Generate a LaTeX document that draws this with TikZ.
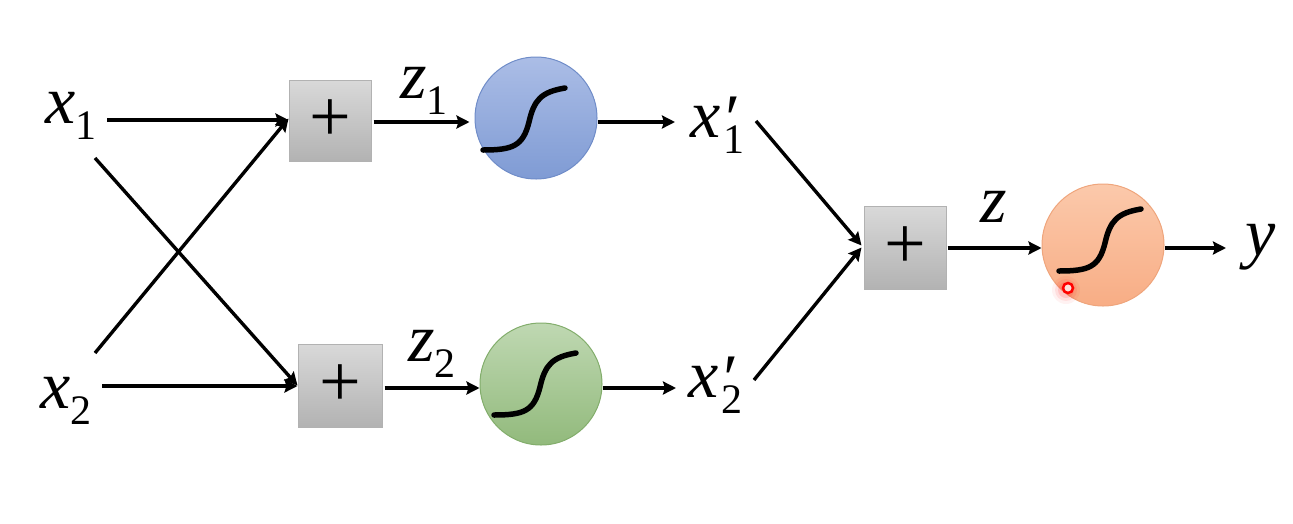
\documentclass[tikz,border=0pt]{standalone}
\usepackage{fontspec}
\setmainfont{Liberation Serif}
\usetikzlibrary{arrows.meta}
\definecolor{blueTop}{HTML}{ABBDE6}\definecolor{blueBot}{HTML}{7F9BD4}\definecolor{blueEdge}{HTML}{6F8CC8}
\definecolor{greenTop}{HTML}{BFD8B2}\definecolor{greenBot}{HTML}{92BA7C}\definecolor{greenEdge}{HTML}{82AD6B}
\definecolor{orangeTop}{HTML}{FBC9AB}\definecolor{orangeBot}{HTML}{F8AD85}\definecolor{orangeEdge}{HTML}{EFA57C}
\newcommand{\bigplus}{\fontsize{74}{74}\selectfont +}
% italic letter, lowered upright index, and a prime set over the index
\newcommand{\varsym}[1]{{\fontsize{68}{68}\selectfont\itshape #1}}
\newcommand{\indexsym}[1]{\raisebox{-16pt}{\fontsize{42}{42}\selectfont #1}}
\newcommand{\primesym}{\rlap{\raisebox{-4pt}{\fontsize{68}{68}\selectfont\itshape\kern1pt ′}}}
\tikzset{
  sumbox/.style={draw=black!30, line width=1pt, inner sep=0pt, top color=black!15, bottom color=black!30},
  gatecircle/.style={circle, minimum size=122pt, inner sep=0pt, line width=1pt},
  wire/.style={line width=3.4pt, -{Stealth[length=13pt,width=13pt,inset=2pt]}},
  mathlabel/.style={inner sep=0pt, anchor=base west},
  sigmoid/.pic={
    \draw[line width=5.5pt, line cap=round, black]
      (0,0) .. controls (30,0) and (40,-4) .. (46,-28)
            .. controls (51,-50) and (58,-58) .. (82,-62);
  }
}
\begin{document}
\begin{tikzpicture}[x=1pt,y=-1pt]
  \useasboundingbox (0,0) rectangle (1293,523);

  % summing boxes
  \node[sumbox, minimum width=82pt, minimum height=81pt] (sumA) at (330,120.5) {\bigplus};
  \node[sumbox, minimum width=84pt, minimum height=83pt] (sumB) at (340,385.5) {\bigplus};
  \node[sumbox, minimum width=82pt, minimum height=83pt] (sumC) at (905,247.5) {\bigplus};

  % activation circles
  \node[gatecircle, draw=blueEdge, top color=blueTop, bottom color=blueBot] (gateA) at (536,118) {};
  \node[gatecircle, draw=greenEdge, top color=greenTop, bottom color=greenBot] (gateB) at (541,384) {};
  \node[gatecircle, draw=orangeEdge, top color=orangeTop, bottom color=orangeBot] (gateC) at (1103,245) {};
  \pic at (483,150) {sigmoid};
  \pic at (494,415) {sigmoid};
  \pic at (1059,271) {sigmoid};

  % variable labels
  \node[mathlabel] (xA) at (45,123) {\varsym{x}\indexsym{1}};
  \node[mathlabel] (xB) at (40,408) {\varsym{x}\indexsym{2}};
  \node[mathlabel] (zA) at (400,98) {\varsym{z}\indexsym{1}};
  \node[mathlabel] (zB) at (408,361) {\varsym{z}\indexsym{2}};
  \node[mathlabel] (xpA) at (690,137) {\varsym{x}\primesym\kern3pt\indexsym{1}};
  \node[mathlabel] (xpB) at (688,397) {\varsym{x}\primesym\kern3pt\indexsym{2}};
  \node[mathlabel] (zC) at (980,222) {\varsym{z}};
  \node[mathlabel] (yC) at (1245,255) {\varsym{y}};

  % free ends of the wires
  \coordinate (xAright) at (107,120);
  \coordinate (xAdown) at (95,158);
  \coordinate (xBright) at (102,386);
  \coordinate (xBup) at (95,353);
  \coordinate (xpAout) at (756,121);
  \coordinate (xpBout) at (754,380);
  \coordinate (xpAin) at (675,122);
  \coordinate (xpBin) at (676,388);
  \coordinate (yIn) at (1226,248);

  % wires
  \draw[wire] (xAright) -- (sumA.west |- xAright);
  \draw[wire] (xBup) -- ([yshift=2pt]sumA.west);
  \draw[wire] (xAdown) -- (sumB.west);
  \draw[wire] (xBright) -- (sumB.west |- xBright);
  \draw[wire] ([shift={(2pt,-1.5pt)}]sumA.east) -- ([shift={(-5pt,-4pt)}]gateA.west);
  \draw[wire] ([shift={(2pt,-2.5pt)}]sumB.east) -- ([yshift=-4pt]gateB.west);
  \draw[wire] ([yshift=-4pt]gateA.east) -- (xpAin);
  \draw[wire] ([yshift=-4pt]gateB.east) -- (xpBin);
  \draw[wire] (xpAout) -- ([shift={(-2pt,2pt)}]sumC.west);
  \draw[wire] (xpBout) -- ([xshift=-2pt]sumC.west);
  \draw[wire] ([shift={(1pt,-0.5pt)}]sumC.east) -- ([yshift=-3pt]gateC.west);
  \draw[wire] ([yshift=-3pt]gateC.east) -- (yIn);

  % pointer spot with its soft glow
  \foreach \r/\o in {14/0.05,11/0.08,8/0.12}
    \fill[red, opacity=\o] (1066,290) circle (\r pt);
  \node[circle, draw=red, line width=2.5pt, fill=white, fill opacity=0.75, minimum size=10pt, inner sep=0pt] (spot) at (1068,288) {};
\end{tikzpicture}
\end{document}
